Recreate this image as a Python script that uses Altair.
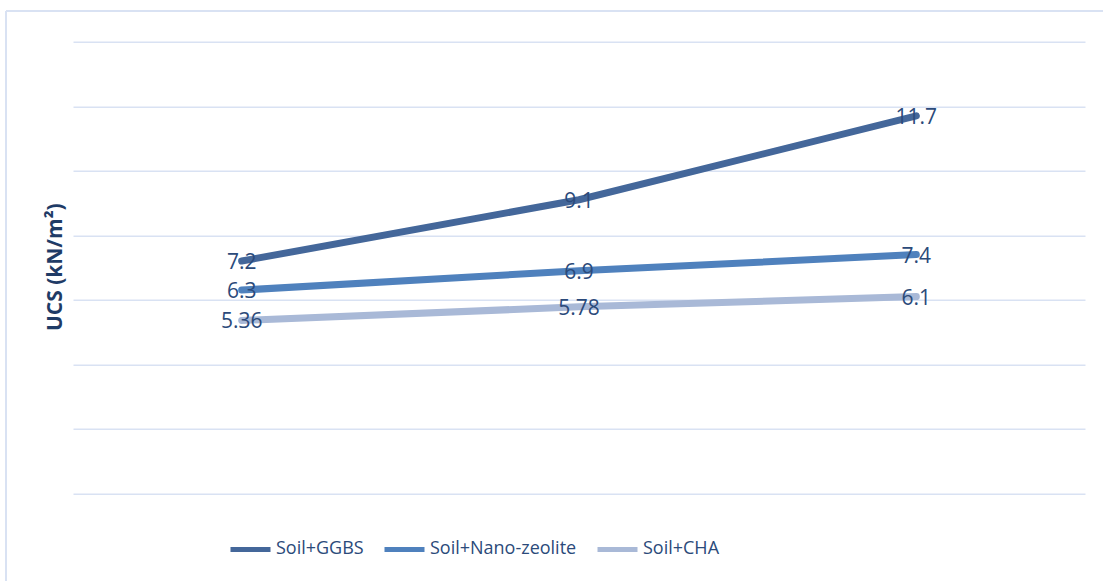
import altair as alt
import pandas as pd

# Three mixes measured at three stages (x positions are unlabeled categories)
stages = ["Stage 1", "Stage 2", "Stage 3"]
series_names = ["Soil+GGBS", "Soil+Nano-zeolite", "Soil+CHA"]
ggbs_ucs = [7.2, 9.1, 11.7]
nano_ucs = [6.3, 6.9, 7.4]
cha_ucs = [5.36, 5.78, 6.1]
series_colors = ["#44679A", "#4F81BD", "#A9B9D7"]
y_ticks = [0, 2, 4, 6, 8, 10, 12, 14]

rows = []
for name, vals in zip(series_names, [ggbs_ucs, nano_ucs, cha_ucs]):
    for st, v in zip(stages, vals):
        rows.append({"series": name, "stage": st, "ucs": v})
df = pd.DataFrame(rows)

FONT = "Open Sans, sans-serif"
TEXT_COLOR = "#2B4A7A"
GRID_COLOR = "#D9E2F3"

x_enc = alt.X("stage:N", sort=stages, scale=alt.Scale(type="point", padding=0.5), axis=None)
y_enc = alt.Y(
    "ucs:Q",
    scale=alt.Scale(domain=[0, 14], nice=False, zero=True),
    axis=alt.Axis(
        values=y_ticks,
        labels=False,
        ticks=False,
        domain=False,
        grid=True,
        gridColor=GRID_COLOR,
        gridWidth=1.6,
        title="UCS (kN/m²)",
        titleFont=FONT,
        titleFontSize=21,
        titleFontWeight="bold",
        titleColor="#1F3B66",
        titleX=-8,
        titleY=225,
        titleAlign="center",
        titleAngle=270,
    ),
)

color_enc = alt.Color(
    "series:N",
    sort=series_names,
    scale=alt.Scale(domain=series_names, range=series_colors),
    legend=alt.Legend(
        title=None,
        orient="none",
        legendX=155,
        legendY=485,
        direction="horizontal",
        symbolType="stroke",
        symbolSize=1600,
        symbolStrokeWidth=5,
        labelFont=FONT,
        labelFontSize=18,
        labelColor=TEXT_COLOR,
        labelOffset=3,
        labelLimit=0,
        columnPadding=10,
        padding=0,
    ),
)

lines = alt.Chart(df).mark_line(strokeWidth=7, strokeCap="round", strokeJoin="round").encode(
    x=x_enc, y=y_enc, color=color_enc, detail="series:N"
)

labels = alt.Chart(df).mark_text(
    font=FONT, fontSize=21, color=TEXT_COLOR, baseline="middle", align="center", dy=2
).encode(x=x_enc, y=y_enc, text=alt.Text("ucs:Q"))

# light frame around the chart area (top and left edges)
frame_df = pd.DataFrame({"k": [0]})
frame_top = alt.Chart(frame_df).mark_rule(color=GRID_COLOR, strokeWidth=2).encode(
    x=alt.value(-67), x2=alt.value(1030), y=alt.value(-30.7)
)
frame_left = alt.Chart(frame_df).mark_rule(color=GRID_COLOR, strokeWidth=2).encode(
    x=alt.value(-67), y=alt.value(-30.7), y2=alt.value(545)
)

chart = (
    alt.layer(frame_top, frame_left, lines, labels)
    .properties(
        width=1012,
        height=451.6,
        padding={"left": 73, "top": 41.7, "right": 18, "bottom": 88},
        autosize=alt.AutoSizeParams(type="none"),
        background="white",
    )
    .configure_view(stroke=None)
)

chart.save("out.html", embed_options={"renderer": "svg", "actions": False})
